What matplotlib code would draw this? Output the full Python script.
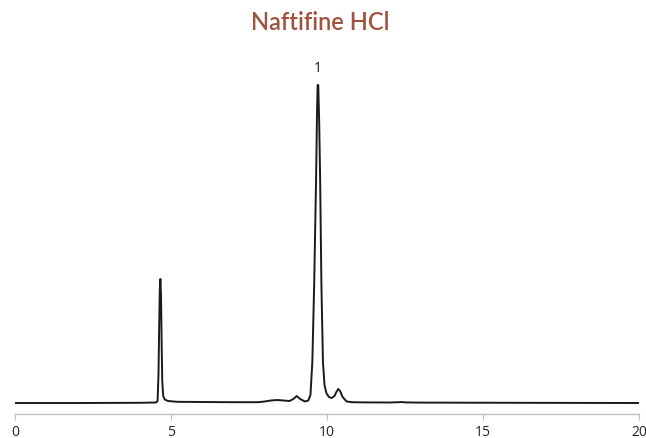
import matplotlib.pyplot as plt

# retention time (min) and detector signal (arbitrary units)
time = [0.0, 2.0, 4.0, 4.52, 4.57, 4.60, 4.62, 4.64, 4.66, 4.68, 4.70, 4.72, 4.75, 4.80,
        4.90, 5.2, 6.0, 7.0, 7.8, 8.0, 8.2, 8.4, 8.6, 8.8, 8.92, 9.03, 9.14, 9.29, 9.40,
        9.47, 9.53, 9.59, 9.65, 9.68, 9.70, 9.72, 9.75, 9.78, 9.82, 9.87, 9.92, 9.98,
        10.06, 10.15, 10.24, 10.30, 10.36, 10.42, 10.50, 10.63, 10.8, 11.2, 12.0,
        12.3, 12.4, 12.5, 13.0, 16.0, 20.0]
signal = [0.0, 0.0, 0.2, 0.5, 2, 30, 75, 112, 124, 108, 60, 22, 7, 3.5,
          2.0, 1.2, 1.0, 0.8, 0.8, 1.5, 2.5, 3.0, 2.5, 2.0, 4.0, 7.0, 4.0, 1.5, 2.5,
          8, 41, 120, 224, 290, 318, 318, 280, 224, 120, 41, 18, 10,
          6, 5, 7, 11, 14, 12, 6, 1.5, 0.8, 0.6, 0.5,
          0.8, 1.0, 0.6, 0.4, 0.2, 0.0]

peak_labels = ["1"]
peak_times = [9.71]

fig = plt.figure(figsize=(6.46, 4.39), dpi=100)
ax = fig.add_axes([15 / 646, 24 / 439, 624 / 646, 355 / 439])

ax.plot(time, signal, color="#1a1a1a", linewidth=1.4)

for lab, t in zip(peak_labels, peak_times):
    ax.text(t, 328, lab, ha="center", va="bottom", fontsize=10, color="#1a1a1a",
            family="Open Sans")

ax.set_xlim(0, 20)
ax.set_ylim(-11, 344)
ax.set_xticks([0, 5, 10, 15, 20])
ax.set_yticks([])
for side in ["left", "right", "top"]:
    ax.spines[side].set_visible(False)
ax.spines["bottom"].set_color("#bfbfbf")
ax.spines["bottom"].set_linewidth(1.0)
ax.tick_params(axis="x", direction="out", length=4, color="#bfbfbf",
               labelcolor="#262626", labelsize=10, pad=3)
for lbl in ax.get_xticklabels():
    lbl.set_family("Open Sans")

fig.text(320 / 646, 1 - 23 / 439, "Naftifine HCl", ha="center", va="center",
         fontsize=17, color="#a0533f", fontweight="semibold", family="Lato")

fig.savefig("out.png", dpi=100)
